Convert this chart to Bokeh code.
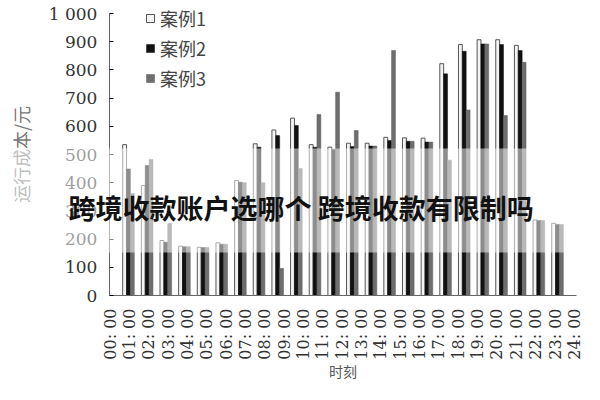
import numpy as np
from bokeh.plotting import figure
from bokeh.models import (Range1d, FixedTicker, Legend, LegendItem, BoxAnnotation,
                          Label, ColumnDataSource)
from bokeh.embed import file_html
from bokeh.resources import INLINE

# ---- data ----
hour_labels = ["00: 00", "01: 00", "02: 00", "03: 00", "04: 00", "05: 00", "06: 00",
               "07: 00", "08: 00", "09: 00", "10: 00", "11: 00", "12: 00", "13: 00",
               "14: 00", "15: 00", "16: 00", "17: 00", "18: 00", "19: 00", "20: 00",
               "21: 00", "22: 00", "23: 00", "24: 00"]
series_names = ["案例1", "案例2", "案例3"]
case1 = [535, 390, 195, 175, 171, 187, 408, 538, 587, 629, 535, 526,
         540, 540, 561, 559, 558, 822, 890, 907, 907, 887, 268, 256]
case2 = [449, 461, 189, 173, 170, 182, 402, 526, 567, 603, 526, 518,
         528, 530, 550, 547, 544, 786, 866, 892, 890, 869, 266, 252]
case3 = [362, 482, 255, 173, 170, 182, 400, 400, 96, 450, 642, 721,
         585, 530, 869, 547, 544, 480, 658, 892, 638, 827, 266, 252]
y_ticks = [0, 100, 200, 300, 400, 500, 600, 700, 800, 900, 1000]
y_tick_labels = ["0", "100", "200", "300", "400", "500", "600", "700", "800", "900", "1 000"]
overlay_text = "跨境收款账户选哪个 跨境收款有限制吗"

# ---- layout ----
W, H = 584, 384
idx = np.arange(len(case1))
centers = 0.956 + 0.964 * idx
bw = 0.2

# the frame fills the canvas; axes sit at fixed data locations inside it
p = figure(width=W, height=H, x_range=Range1d(-5.659, 24.522), y_range=Range1d(-315.6, 1046.1),
           output_backend="svg", toolbar_location=None,
           min_border_left=0, min_border_right=0, min_border_top=0, min_border_bottom=0)
p.outline_line_color = None
p.xgrid.visible = False
p.ygrid.visible = False
p.background_fill_color = "white"
p.border_fill_color = "white"

src = ColumnDataSource(dict(x1=centers - bw, x2=centers, x3=centers + bw,
                            c1=case1, c2=case2, c3=case3))
r1 = p.vbar(x="x1", top="c1", width=bw, source=src, fill_color="#f4f4f4",
            line_color="#555555", line_width=1)
r2 = p.vbar(x="x2", top="c2", width=bw, source=src, fill_color="#111111",
            line_color="#111111", line_width=0.5)
r3 = p.vbar(x="x3", top="c3", width=bw, source=src, fill_color="#6e6e6e",
            line_color="#5a5a5a", line_width=0.5)

xa = p.xaxis[0]
xa.fixed_location = 0
xa.bounds = (-0.03, 24.1)
xa.ticker = FixedTicker(ticks=list(range(len(hour_labels))))
xa.major_label_overrides = {i: lab for i, lab in enumerate(hour_labels)}
xa.major_label_orientation = np.pi / 2
xa.major_label_text_font = "DejaVu Serif"
xa.major_label_text_font_size = "16px"
xa.major_label_text_color = "#333333"
xa.major_label_standoff = 13
xa.major_tick_in = 0
xa.major_tick_out = 0
xa.minor_tick_line_color = None
xa.axis_line_color = "#666666"
xa.axis_label = "时刻"
xa.axis_label_text_font = "Noto Sans CJK SC"
xa.axis_label_text_font_style = "normal"
xa.axis_label_text_font_size = "14px"
xa.axis_label_text_color = "#555555"
xa.axis_label_standoff = -2

ya = p.yaxis[0]
ya.fixed_location = -0.03
ya.bounds = (0, 1000)
ya.ticker = FixedTicker(ticks=y_ticks)
ya.major_label_overrides = {t: lab for t, lab in zip(y_ticks, y_tick_labels)}
ya.major_label_text_font = "DejaVu Serif"
ya.major_label_text_font_size = "17px"
ya.major_label_text_color = "#333333"
ya.major_label_standoff = 12
ya.major_tick_in = 4
ya.major_tick_out = 0
ya.minor_tick_line_color = None
ya.axis_line_color = "#666666"
ya.axis_label = "运行成本/元"
ya.axis_label_text_font = "Noto Sans CJK SC"
ya.axis_label_text_font_style = "normal"
ya.axis_label_text_font_size = "18px"
ya.axis_label_text_color = "#777777"
ya.axis_label_standoff = 12

legend = Legend(items=[LegendItem(label=series_names[0], renderers=[r1]),
                       LegendItem(label=series_names[1], renderers=[r2]),
                       LegendItem(label=series_names[2], renderers=[r3])],
                location=(145, 293), orientation="vertical",
                background_fill_alpha=0, border_line_color=None,
                padding=0, margin=0, spacing=4, glyph_width=10, glyph_height=10,
                label_height=20, label_standoff=5,
                label_text_font="Noto Sans CJK SC", label_text_font_size="18px",
                label_text_color="#444444")
p.add_layout(legend)

band = BoxAnnotation(left=0, right=W, bottom=132, top=236,
                     left_units="screen", right_units="screen",
                     bottom_units="screen", top_units="screen",
                     fill_color="white", fill_alpha=0.52, line_color=None,
                     level="overlay")
p.add_layout(band)

lbl = Label(x=68, y=177, x_units="screen", y_units="screen", text=overlay_text,
            text_font="Noto Sans CJK SC", text_font_style="bold", text_font_size="27px",
            text_color="#111111", text_baseline="middle", text_align="left",
            level="overlay")
p.add_layout(lbl)

open("out.html", "w").write(file_html(p, INLINE))
